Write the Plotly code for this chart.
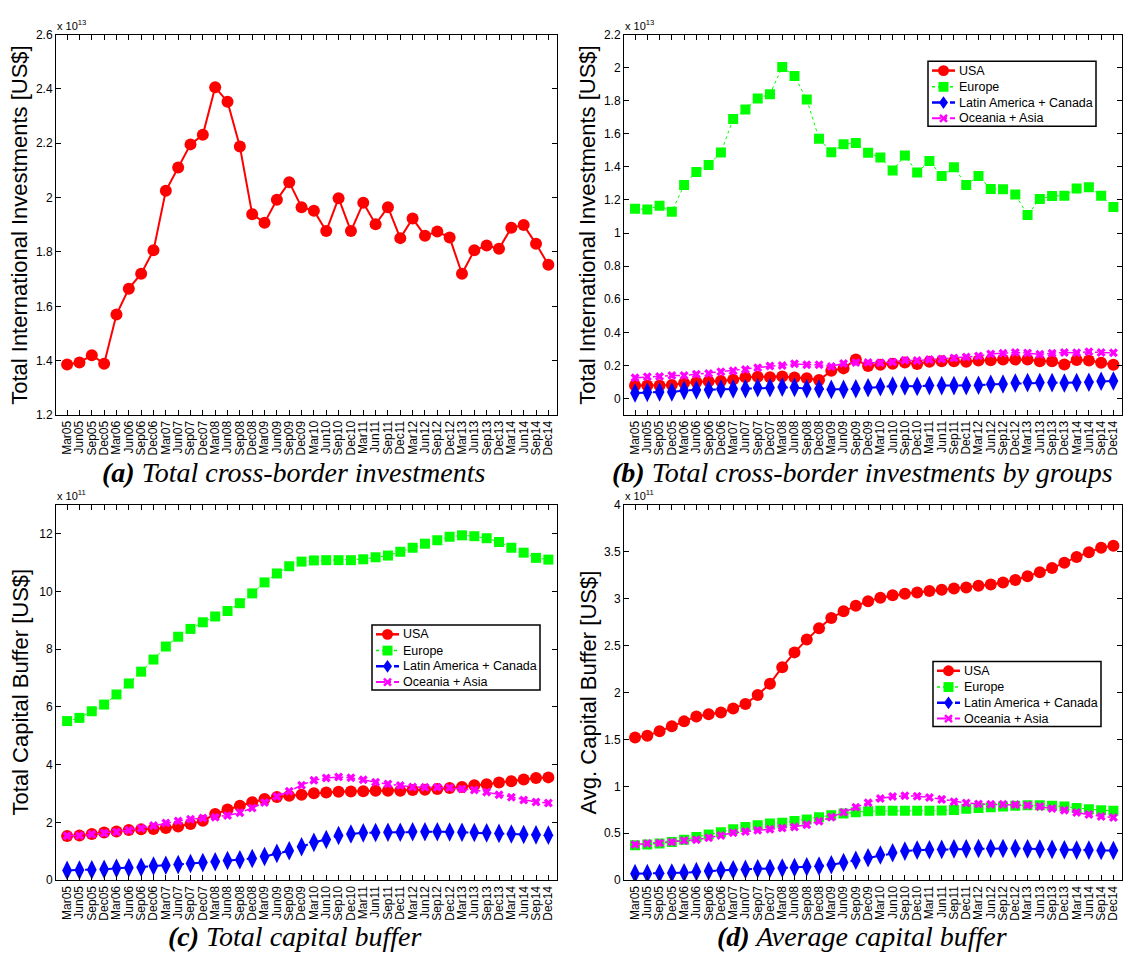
import plotly.graph_objects as go

quarters = ["Mar05", "Jun05", "Sep05", "Dec05", "Mar06", "Jun06", "Sep06", "Dec06",
            "Mar07", "Jun07", "Sep07", "Dec07", "Mar08", "Jun08", "Sep08", "Dec08",
            "Mar09", "Jun09", "Sep09", "Dec09", "Mar10", "Jun10", "Sep10", "Dec10",
            "Mar11", "Jun11", "Sep11", "Dec11", "Mar12", "Jun12", "Sep12", "Dec12",
            "Mar13", "Jun13", "Sep13", "Dec13", "Mar14", "Jun14", "Sep14", "Dec14"]

# (a) total cross-border investments, x 10^13 US$
a_total = [1.386, 1.393, 1.420, 1.389, 1.570, 1.665, 1.720, 1.806,
           2.025, 2.111, 2.196, 2.231, 2.406, 2.353, 2.188, 1.939,
           1.908, 1.992, 2.057, 1.965, 1.952, 1.877, 1.998, 1.877,
           1.981, 1.902, 1.965, 1.851, 1.923, 1.860, 1.875, 1.853,
           1.720, 1.806, 1.824, 1.812, 1.889, 1.899, 1.830, 1.753]

# (b) by groups, x 10^13 US$
b_usa = [0.078, 0.078, 0.078, 0.082, 0.094, 0.100, 0.104, 0.106,
         0.114, 0.129, 0.131, 0.129, 0.133, 0.127, 0.122, 0.112,
         0.167, 0.182, 0.235, 0.196, 0.204, 0.210, 0.218, 0.208,
         0.222, 0.225, 0.225, 0.222, 0.229, 0.231, 0.235, 0.235,
         0.235, 0.225, 0.225, 0.206, 0.233, 0.229, 0.216, 0.204]
b_europe = [1.147, 1.143, 1.166, 1.129, 1.291, 1.370, 1.412, 1.487,
            1.689, 1.747, 1.814, 1.840, 2.004, 1.949, 1.808, 1.570,
            1.489, 1.537, 1.545, 1.485, 1.457, 1.378, 1.469, 1.366,
            1.436, 1.345, 1.398, 1.291, 1.345, 1.267, 1.265, 1.234,
            1.109, 1.206, 1.224, 1.226, 1.269, 1.277, 1.226, 1.158]
b_latam = [0.033, 0.037, 0.039, 0.039, 0.049, 0.051, 0.053, 0.057,
           0.057, 0.059, 0.065, 0.065, 0.069, 0.067, 0.059, 0.057,
           0.055, 0.055, 0.059, 0.065, 0.071, 0.075, 0.076, 0.073,
           0.078, 0.078, 0.078, 0.078, 0.080, 0.086, 0.088, 0.094,
           0.096, 0.096, 0.096, 0.094, 0.096, 0.098, 0.104, 0.106]
b_oceania = [0.125, 0.131, 0.133, 0.139, 0.139, 0.147, 0.151, 0.161,
             0.167, 0.175, 0.186, 0.196, 0.200, 0.210, 0.204, 0.204,
             0.194, 0.212, 0.218, 0.218, 0.216, 0.220, 0.231, 0.229,
             0.235, 0.239, 0.245, 0.251, 0.257, 0.269, 0.273, 0.278,
             0.275, 0.267, 0.273, 0.278, 0.276, 0.282, 0.278, 0.276]

# (c) total capital buffer, x 10^11 US$
c_usa = [1.53, 1.55, 1.60, 1.65, 1.69, 1.74, 1.76, 1.77,
         1.81, 1.86, 1.95, 2.06, 2.29, 2.45, 2.58, 2.70,
         2.81, 2.88, 2.92, 2.96, 3.01, 3.04, 3.06, 3.07,
         3.08, 3.10, 3.10, 3.10, 3.12, 3.13, 3.16, 3.19,
         3.23, 3.29, 3.32, 3.38, 3.43, 3.49, 3.54, 3.56]
c_europe = [5.51, 5.62, 5.85, 6.08, 6.43, 6.81, 7.22, 7.64,
            8.09, 8.43, 8.70, 8.93, 9.13, 9.32, 9.59, 9.93,
            10.31, 10.62, 10.87, 11.03, 11.07, 11.08, 11.08, 11.08,
            11.11, 11.18, 11.24, 11.37, 11.51, 11.65, 11.77, 11.89,
            11.94, 11.91, 11.84, 11.71, 11.51, 11.34, 11.16, 11.10]
c_latam = [0.34, 0.35, 0.36, 0.38, 0.41, 0.43, 0.45, 0.49,
           0.52, 0.54, 0.58, 0.61, 0.64, 0.68, 0.71, 0.75,
           0.82, 0.93, 1.02, 1.16, 1.31, 1.41, 1.55, 1.60,
           1.64, 1.65, 1.66, 1.66, 1.68, 1.68, 1.68, 1.67,
           1.66, 1.65, 1.64, 1.62, 1.60, 1.58, 1.57, 1.56]
c_oceania = [1.54, 1.55, 1.59, 1.63, 1.67, 1.73, 1.80, 1.89,
             1.98, 2.05, 2.11, 2.15, 2.18, 2.24, 2.34, 2.50,
             2.69, 2.90, 3.08, 3.29, 3.46, 3.54, 3.57, 3.55,
             3.48, 3.39, 3.33, 3.28, 3.23, 3.22, 3.22, 3.20,
             3.16, 3.12, 3.05, 2.96, 2.87, 2.78, 2.71, 2.67]

# (d) average capital buffer, x 10^11 US$
d_usa = [1.52, 1.54, 1.587, 1.64, 1.692, 1.745, 1.769, 1.787,
         1.829, 1.878, 1.972, 2.094, 2.269, 2.427, 2.563, 2.685,
         2.794, 2.864, 2.923, 2.972, 3.010, 3.035, 3.052, 3.066,
         3.080, 3.094, 3.108, 3.119, 3.136, 3.150, 3.171, 3.199,
         3.238, 3.280, 3.325, 3.381, 3.444, 3.493, 3.542, 3.563]
d_europe = [0.373, 0.380, 0.390, 0.408, 0.432, 0.460, 0.488, 0.512,
            0.544, 0.568, 0.585, 0.603, 0.613, 0.631, 0.648, 0.672,
            0.693, 0.711, 0.725, 0.735, 0.739, 0.739, 0.739, 0.739,
            0.739, 0.742, 0.749, 0.760, 0.770, 0.777, 0.784, 0.794,
            0.798, 0.798, 0.794, 0.784, 0.770, 0.756, 0.746, 0.739]
d_latam = [0.070, 0.070, 0.073, 0.077, 0.080, 0.091, 0.098, 0.105,
           0.111, 0.115, 0.122, 0.125, 0.129, 0.136, 0.143, 0.150,
           0.164, 0.188, 0.213, 0.240, 0.268, 0.293, 0.310, 0.321,
           0.324, 0.328, 0.334, 0.334, 0.338, 0.338, 0.338, 0.338,
           0.334, 0.331, 0.328, 0.324, 0.321, 0.321, 0.317, 0.317]
d_oceania = [0.380, 0.390, 0.397, 0.408, 0.422, 0.432, 0.453, 0.477,
             0.505, 0.519, 0.533, 0.544, 0.557, 0.568, 0.592, 0.627,
             0.672, 0.725, 0.777, 0.826, 0.871, 0.892, 0.899, 0.895,
             0.882, 0.861, 0.836, 0.822, 0.812, 0.808, 0.808, 0.805,
             0.798, 0.784, 0.763, 0.746, 0.721, 0.700, 0.679, 0.669]

series_names = ["USA", "Europe", "Latin America + Canada", "Oceania + Asia"]
captions = ["<b>(a)</b> Total cross-border investments",
            "<b>(b)</b> Total cross-border investments by groups",
            "<b>(c)</b> Total capital buffer",
            "<b>(d)</b> Average capital buffer"]
ytitles = ["Total International Investments [US$]",
           "Total International Investments [US$]",
           "Total Capital Buffer [US$]",
           "Avg. Capital Buffer [US$]"]
exponents = ["13", "13", "11", "11"]

W, H = 1127, 970
SANS = "Liberation Sans, Arial, sans-serif"
SERIF = "Liberation Serif, Times New Roman, serif"


def px(x):
    return x / W


def py(y):
    return 1 - y / H


# panel frames in pixels: left, right, top, bottom
frames = [(56, 557, 28, 414), (624, 1122, 28, 414),
          (56, 557, 505, 886), (624, 1122, 505, 886)]

colors = ["#ff0000", "#00ff00", "#0000ff", "#ff00ff"]
dashes = ["solid", "dot", "dash", "dashdot"]
widths = [2, 1, 2, 1.5]
symbols = ["circle", "square", "diamond-tall", "x"]
msizes = [12, 10, 14, 8]

fig = go.Figure()

panels = [
    [a_total],
    [b_usa, b_europe, b_latam, b_oceania],
    [c_usa, c_europe, c_latam, c_oceania],
    [d_usa, d_europe, d_latam, d_oceania],
]

for p, data in enumerate(panels):
    xa = "x" if p == 0 else f"x{p+1}"
    ya = "y" if p == 0 else f"y{p+1}"
    for s, vals in enumerate(data):
        fig.add_trace(go.Scatter(
            x=quarters, y=vals, mode="lines+markers", name=series_names[s],
            xaxis=xa, yaxis=ya, showlegend=False,
            line=dict(color=colors[s], width=widths[s], dash=dashes[s]),
            marker=dict(symbol=symbols[s], size=msizes[s], color=colors[s],
                        line=dict(width=0)),
        ))

yranges = [(1.2, 2.6, 0.2), (-0.1, 2.2, 0.2), (0, 13, 2), (0, 4, 0.5)]
annotations = []
shapes = []
layout = dict(width=W, height=H, margin=dict(l=0, r=0, t=0, b=0),
              paper_bgcolor="white", plot_bgcolor="white", showlegend=False,
              font=dict(family=SANS, color="black", size=12))

for p in range(4):
    l, r, t, b = frames[p]
    xk = "xaxis" if p == 0 else f"xaxis{p+1}"
    yk = "yaxis" if p == 0 else f"yaxis{p+1}"
    yan = "y" if p == 0 else f"y{p+1}"
    xan = "x" if p == 0 else f"x{p+1}"
    y0, y1, dt = yranges[p]
    layout[xk] = dict(domain=[px(l), px(r)], anchor=yan, type="category",
                      range=[-0.9, 39.7], tickmode="array", tickvals=quarters,
                      ticktext=quarters, tickangle=-90, ticks="inside", ticklen=5,
                      tickcolor="black", showline=True, linecolor="black",
                      linewidth=1, mirror="ticks", showgrid=False, zeroline=False,
                      tickfont=dict(size=12, family=SANS, color="black"))
    layout[yk] = dict(domain=[py(b), py(t)], anchor=xan,
                      range=[y0, y1], tick0=0, dtick=dt, ticks="inside",
                      ticklen=5, tickcolor="black", showline=True,
                      linecolor="black", linewidth=1, mirror="ticks",
                      showgrid=False, zeroline=False,
                      tickfont=dict(size=12, family=SANS, color="black"))
    annotations.append(dict(xref="paper", yref="paper", x=px(l - 1),
                            y=py(t - 1), xanchor="left", yanchor="bottom",
                            text=f"x 10<sup>{exponents[p]}</sup>", showarrow=False,
                            font=dict(size=11, family=SANS, color="black")))
    annotations.append(dict(xref="paper", yref="paper",
                            x=px(l - 36), y=py((t + b) / 2),
                            xanchor="center", yanchor="middle", textangle=-90,
                            text=ytitles[p], showarrow=False,
                            font=dict(size=22, family=SANS, color="black")))
    cx = 294 if p in (0, 2) else 862
    cy = 472 if p < 2 else 943
    annotations.append(dict(xref="paper", yref="paper", x=px(cx), y=py(cy),
                            xanchor="center", yanchor="middle",
                            text=f"<i>{captions[p]}</i>", showarrow=False,
                            font=dict(size=28, family=SERIF, color="black")))


# custom legends (box: left, top in pixels) for panels b, c, d
def add_legend(L, T):
    bw, bh = 168, 66
    shapes.append(dict(type="rect", xref="paper", yref="paper",
                       x0=px(L), x1=px(L + bw), y0=py(T), y1=py(T + bh),
                       fillcolor="white", line=dict(color="black", width=1.5),
                       layer="above"))
    row_y = [T + 9.5, T + 26, T + 42, T + 58]
    for s in range(4):
        yc = row_y[s]
        shapes.append(dict(type="line", xref="paper", yref="paper",
                           x0=px(L + 4), x1=px(L + 27), y0=py(yc), y1=py(yc),
                           line=dict(color=colors[s], width=widths[s] + 0.5,
                                     dash=dashes[s]), layer="above"))
        mx = L + 15.5
        if s == 0:
            shapes.append(dict(type="circle", xref="paper", yref="paper",
                               x0=px(mx - 5.5), x1=px(mx + 5.5),
                               y0=py(yc + 5.5), y1=py(yc - 5.5),
                               fillcolor=colors[s], line=dict(width=0),
                               layer="above"))
        elif s == 1:
            shapes.append(dict(type="rect", xref="paper", yref="paper",
                               x0=px(mx - 5), x1=px(mx + 5),
                               y0=py(yc + 5), y1=py(yc - 5),
                               fillcolor=colors[s], line=dict(width=0),
                               layer="above"))
        elif s == 2:
            path = (f"M {px(mx)},{py(yc - 6.5)} L {px(mx + 4.5)},{py(yc)} "
                    f"L {px(mx)},{py(yc + 6.5)} L {px(mx - 4.5)},{py(yc)} Z")
            shapes.append(dict(type="path", xref="paper", yref="paper", path=path,
                               fillcolor=colors[s], line=dict(width=0),
                               layer="above"))
        else:
            path = (f"M {px(mx - 3.5)},{py(yc - 3.5)} L {px(mx + 3.5)},{py(yc + 3.5)} "
                    f"M {px(mx - 3.5)},{py(yc + 3.5)} L {px(mx + 3.5)},{py(yc - 3.5)}")
            shapes.append(dict(type="path", xref="paper", yref="paper", path=path,
                               line=dict(color=colors[s], width=2.5),
                               layer="above"))
        annotations.append(dict(xref="paper", yref="paper", x=px(L + 29),
                                y=py(yc), xanchor="left", yanchor="middle",
                                text=series_names[s], showarrow=False,
                                font=dict(size=12.5, family=SANS, color="black")))


add_legend(928, 55)
add_legend(372, 627)
add_legend(933, 664)

layout["annotations"] = annotations
layout["shapes"] = shapes

fig.update_layout(**layout)
fig.write_html("out.html")
